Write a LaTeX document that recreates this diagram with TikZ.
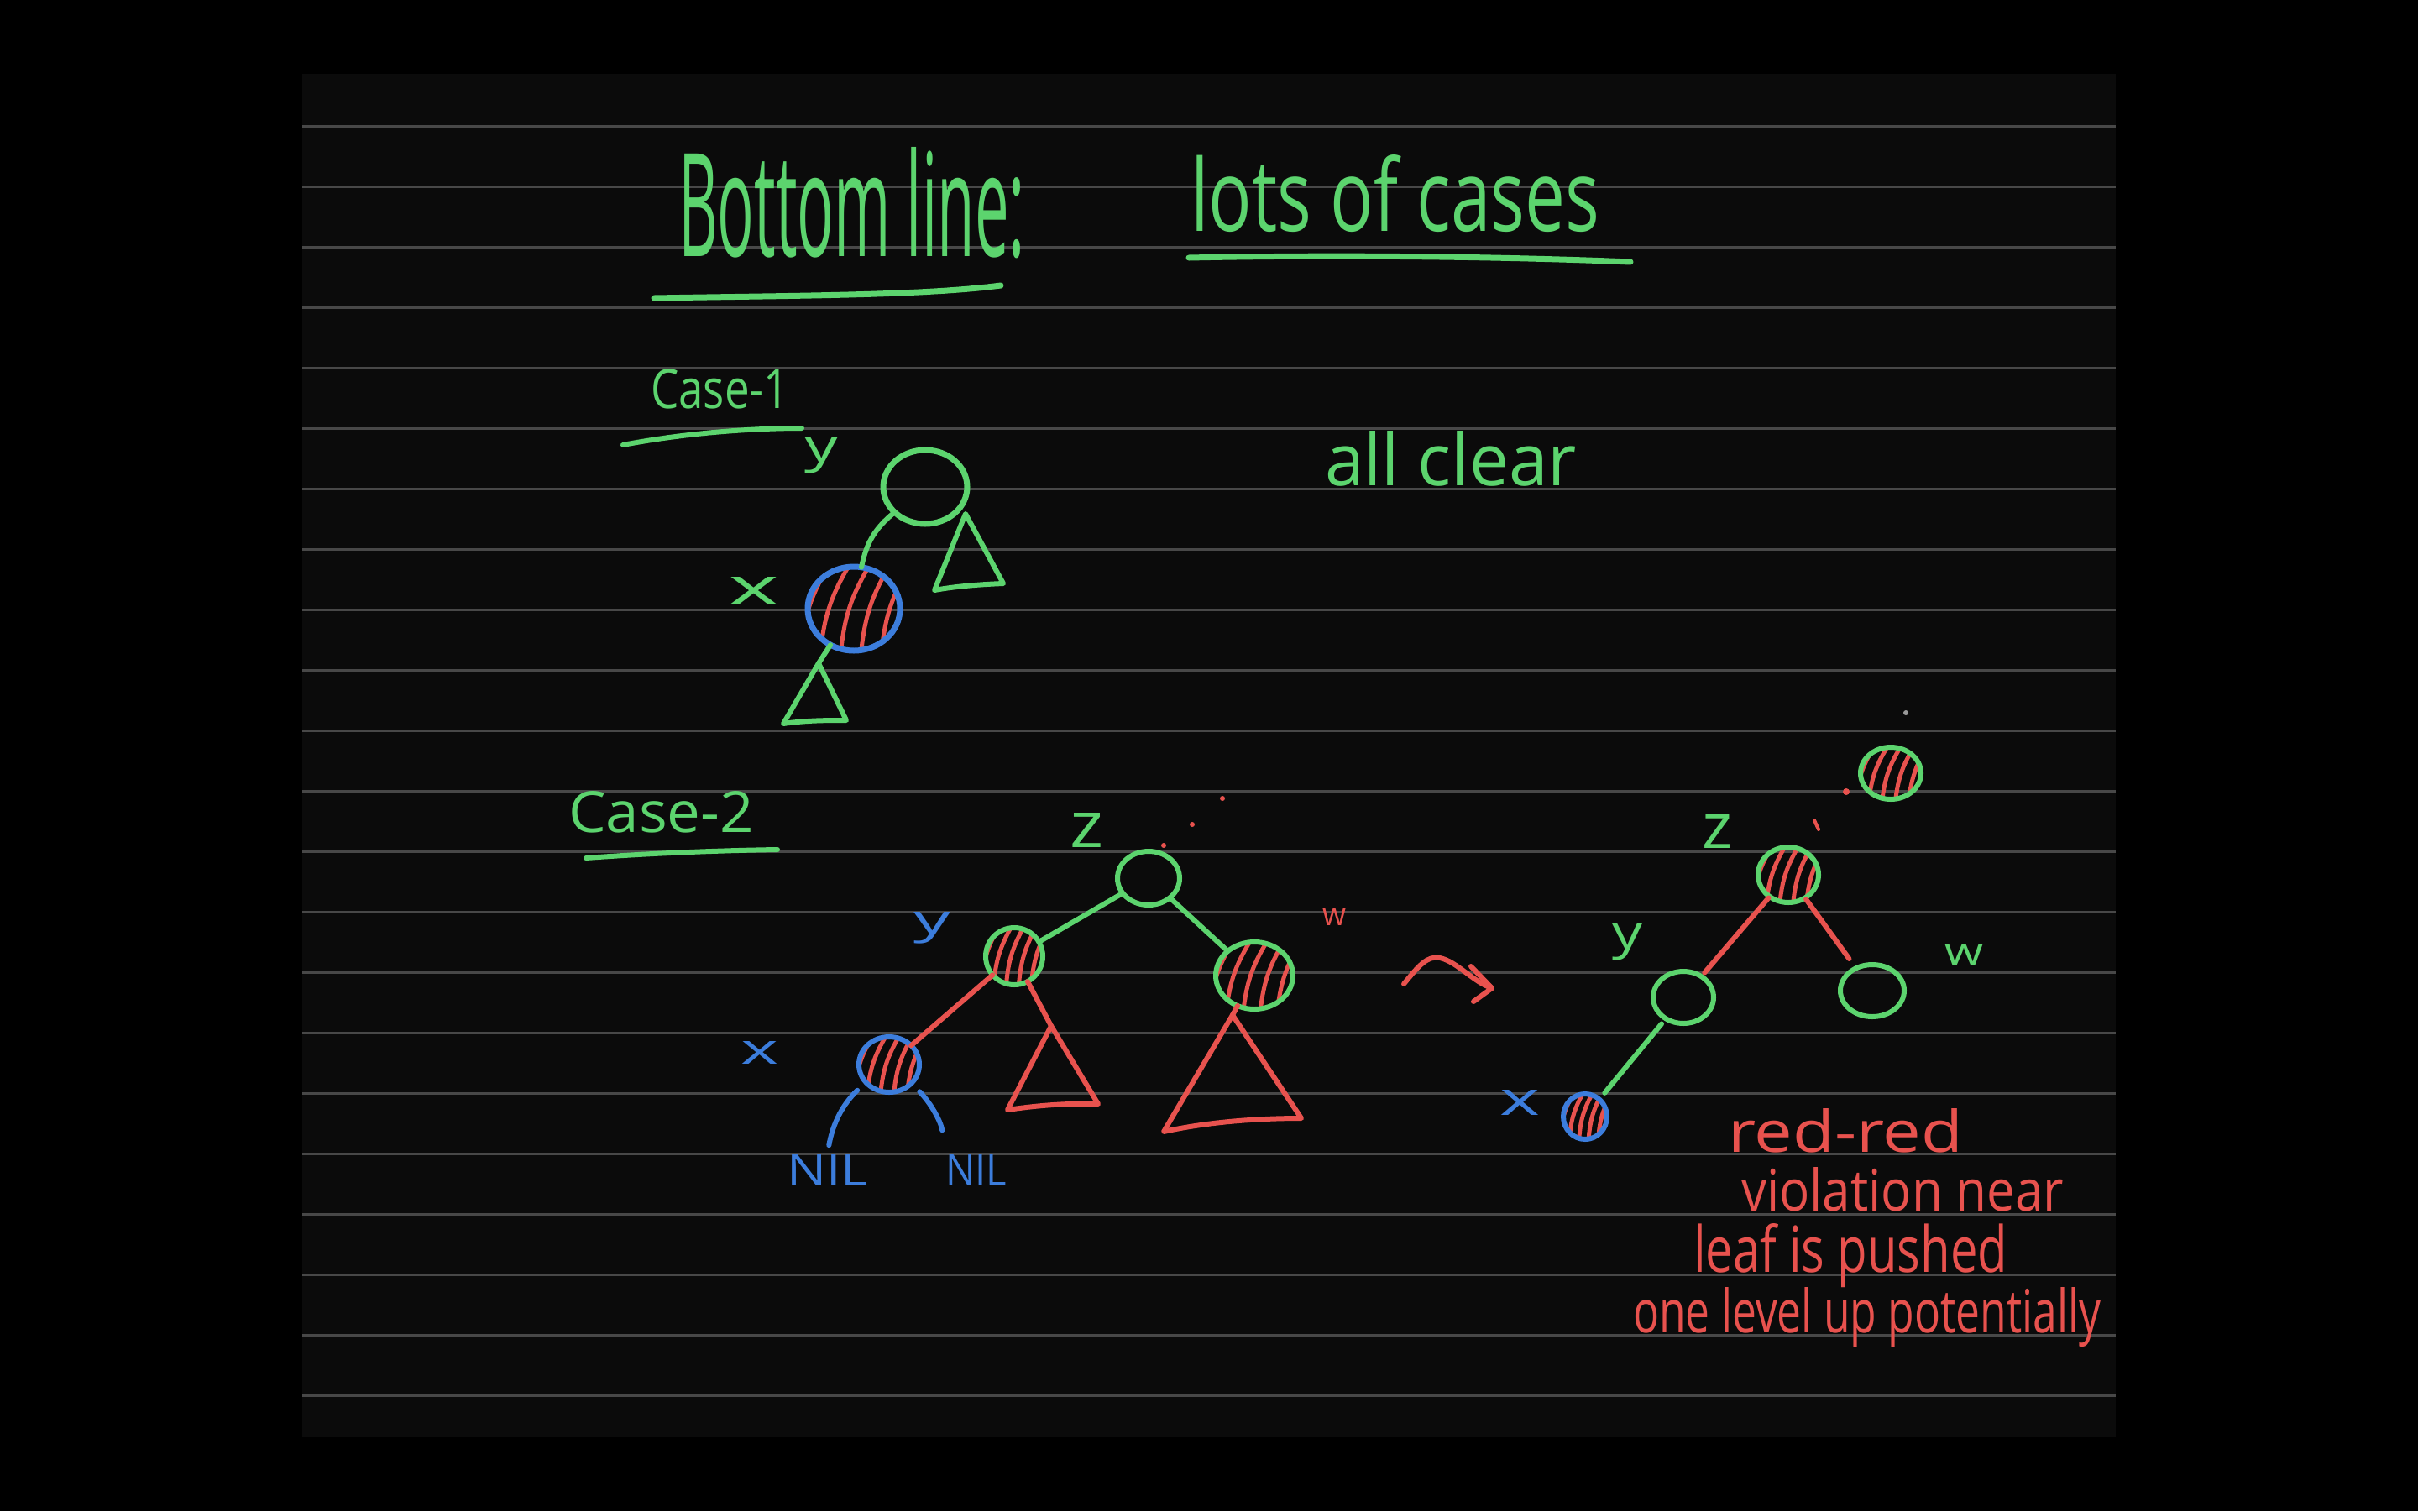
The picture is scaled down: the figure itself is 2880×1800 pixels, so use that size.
\documentclass[tikz,border=0pt]{standalone}
\usepackage{fontspec}
\setmainfont{Open Sans}
\usepackage{graphicx}
\usetikzlibrary{shapes.geometric,calc}
\definecolor{pgreen}{RGB}{92,212,110}
\definecolor{pred}{RGB}{232,82,78}
\definecolor{pblue}{RGB}{60,125,220}
\definecolor{boardbg}{RGB}{11,11,11}
\definecolor{ruleg}{RGB}{72,72,72}
\newcommand{\hwtext}[3]{\resizebox{#1pt}{#2pt}{#3}}
\tikzset{
  txt/.style={anchor=base west, inner sep=0pt, outer sep=0pt},
  gline/.style={draw=pgreen, line width=6pt, line cap=round, line join=round},
  rline/.style={draw=pred, line width=6pt, line cap=round, line join=round},
  bline/.style={draw=pblue, line width=6pt, line cap=round, line join=round},
  tnode/.style={ellipse, inner sep=0pt, outer sep=0pt, line width=6pt},
  hatched/.style={path picture={
    \foreach \f [evaluate=\f as \g using \f+0.3] in {-0.3,-0.08,0.14,0.36,0.58,0.8} {
      \draw[pred, line width=5pt, line cap=round]
        ($(path picture bounding box.south west)!\f!(path picture bounding box.south east)$)
        to[bend left=12]
        ($(path picture bounding box.north west)!\g!(path picture bounding box.north east)$);
    }}},
}
\begin{document}
\begin{tikzpicture}[x=1pt,y=-1pt]
\useasboundingbox (0,0) rectangle (2880,1800);
\fill[black] (0,0) rectangle (2880,1800);
\fill[boardbg] (360,88) rectangle (2520,1712);
\foreach \k in {0,...,21} {
  \draw[ruleg, line width=3pt] (360,{150+72*\k}) -- (2520,{150+72*\k});
}

% ---------- title ----------
\node[txt, text=pgreen] (title) at (808,305) {\hwtext{413}{130}{Bottom line:}};
\node[txt, text=pgreen] (lots) at (1418,275) {\hwtext{487}{91}{lots of cases}};
\draw[gline, line width=7pt] (779,355) .. controls (950,352) and (1100,352) .. (1192,340);
\draw[gline, line width=7pt] (1416,307) .. controls (1600,303) and (1800,306) .. (1942,312);

% ---------- case 1 ----------
\node[txt, text=pgreen] (case1) at (775,486) {\hwtext{165}{47}{Case-1}};
\draw[gline] (742,530) .. controls (820,515) and (900,510) .. (955,510);
\node[txt, text=pgreen] (ylab1) at (958,550) {\hwtext{40}{30}{y}};
\node[txt, text=pgreen] (xlab1) at (867,720) {\hwtext{61}{33}{x}};
\node[txt, text=pgreen] (clear) at (1578,578) {\hwtext{300}{65}{all clear}};

\node[tnode, draw=pgreen, line width=7pt, minimum width=100pt, minimum height=88pt] (y1) at (1102,580) {};
\node[tnode, draw=pblue, line width=7pt, hatched, minimum width=110pt, minimum height=100pt] (x1) at (1017,725) {};
\draw[gline] (y1) to[bend right=20] (x1);
\draw[gline] (1150,612) -- (1113,703) .. controls (1140,698) and (1170,696) .. (1195,695) -- cycle;
\coordinate (t1apex) at (975,790);
\draw[gline] (x1) -- (t1apex);
\draw[gline] (t1apex) -- (933,862) .. controls (960,858) and (985,858) .. (1008,858) -- cycle;

% ---------- case 2 (before) ----------
\node[txt, text=pgreen] (case2) at (677,991) {\hwtext{221}{49}{Case-2}};
\draw[gline] (698,1022) .. controls (780,1016) and (860,1013) .. (926,1012);

\node[txt, text=pgreen] (zlab) at (1274,1009) {\hwtext{40}{41}{z}};
\node[txt, text=pblue] (ylab) at (1088,1112) {\hwtext{44}{26}{y}};
\node[txt, text=pred] (wlab) at (1575,1102) {\hwtext{28}{20}{w}};
\node[txt, text=pblue] (xlab) at (882,1267) {\hwtext{45}{27}{x}};

\node[tnode, draw=pgreen, minimum width=74pt, minimum height=64pt] (zL) at (1368,1046) {};
\node[tnode, draw=pgreen, hatched, minimum width=68pt, minimum height=68pt] (yL) at (1208,1139) {};
\node[tnode, draw=pgreen, hatched, minimum width=92pt, minimum height=80pt] (wL) at (1494,1162) {};
\node[tnode, draw=pblue, hatched, minimum width=72pt, minimum height=66pt] (xL) at (1059,1268) {};

\draw[gline] (zL) -- (yL);
\draw[gline] (zL) -- (wL);
\draw[rline] (yL) -- (xL);
\coordinate (tyapex) at (1252,1222);
\draw[rline] (yL) -- (tyapex);
\draw[rline] (tyapex) -- (1200,1322) .. controls (1240,1316) and (1275,1314) .. (1308,1315) -- cycle;
\coordinate (twapex) at (1468,1209);
\draw[rline] (wL) -- (twapex);
\draw[rline] (twapex) -- (1386,1348) .. controls (1440,1336) and (1500,1332) .. (1550,1332) -- cycle;

\fill[pred] (1386,1007) circle (3);
\fill[pred] (1420,982) circle (3);
\fill[pred] (1456,951) circle (3);

\node[txt, text=pblue] (nilL) at (937,1412) {\hwtext{97}{38}{NIL}};
\node[txt, text=pblue] (nilR) at (1126,1412) {\hwtext{73}{38}{NIL}};
\draw[bline, shorten <=14pt, shorten >=10pt] (xL) to[bend right=18] (nilL.north);
\draw[bline, shorten <=14pt, shorten >=28pt] (xL) to[bend left=18] (nilR.north west);

% ---------- transition arrow ----------
\coordinate (arA) at (1672,1172);
\coordinate (arB) at (1777,1177);
\draw[rline] (arA) .. controls (1690,1150) and (1700,1138) .. (1715,1141)
  .. controls (1735,1145) and (1755,1170) .. (arB);
\draw[rline] (1752,1151) -- (arB) -- (1755,1193);

% ---------- case 2 (after) ----------
\node[txt, text=pgreen] (zlabR) at (2027,1010) {\hwtext{36}{40}{z}};
\node[txt, text=pgreen] (ylabR) at (1920,1130) {\hwtext{36}{30}{y}};
\node[txt, text=pgreen] (wlabR) at (2316,1149) {\hwtext{46}{24}{w}};
\node[txt, text=pblue] (xlabR) at (1786,1328) {\hwtext{48}{30}{x}};

\node[tnode, draw=pgreen, hatched, minimum width=72pt, minimum height=62pt] (topR) at (2252,921) {};
\node[tnode, draw=pgreen, hatched, minimum width=72pt, minimum height=66pt] (zR) at (2130,1042) {};
\node[tnode, draw=pgreen, minimum width=72pt, minimum height=62pt] (yR) at (2005,1188) {};
\node[tnode, draw=pgreen, minimum width=76pt, minimum height=62pt] (wR) at (2230,1180) {};
\node[tnode, draw=pblue, hatched, minimum width=52pt, minimum height=54pt] (xR) at (1888,1330) {};

\draw[rline, shorten <=2pt, shorten >=6pt] (zR) -- (yR);
\draw[rline, shorten <=2pt, shorten >=14pt] (zR) -- (wR);
\draw[gline, shorten <=8pt, shorten >=10pt] (yR) -- (xR);

\fill[gray!80] (2270,849) circle (3);
\fill[pred] (2199,943) circle (4);
\draw[rline, line width=4pt] (2161,977) -- (2166,988);

% ---------- red note ----------
\node[txt, text=pred] (n1) at (2058,1372) {\hwtext{280}{52}{red-red}};
\node[txt, text=pred] (n2) at (2074,1442) {\hwtext{384}{52}{violation near}};
\node[txt, text=pred] (n3) at (2017,1515) {\hwtext{374}{58}{leaf is pushed}};
\node[txt, text=pred] (n4) at (1945,1587) {\hwtext{557}{54}{one level up potentially}};
\end{tikzpicture}
\end{document}
